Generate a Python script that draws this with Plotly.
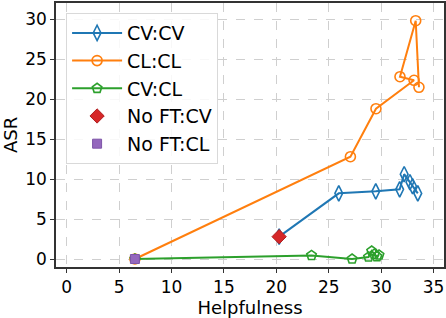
import plotly.graph_objects as go

# Data
cvcv_help = [20.27, 25.96, 29.49, 31.77, 32.2, 32.75, 33.0, 33.5]
cvcv_asr = [2.79, 8.21, 8.46, 8.71, 10.6, 9.6, 9.1, 8.2]

clcl_help = [6.51, 27.07, 29.51, 33.14, 31.80, 33.30, 33.61]
clcl_asr = [0.0, 12.79, 18.79, 22.34, 22.79, 29.79, 21.46]

cvcl_help = [6.51, 23.36, 27.23, 28.8, 29.1, 29.35, 29.6, 29.8]
cvcl_asr = [0.0, 0.45, 0.0, 0.25, 1.0, 0.6, 0.3, 0.5]

noft_cv_help = [20.27]
noft_cv_asr = [2.79]
noft_cl_help = [6.51]
noft_cl_asr = [0.0]

x_ticks = [0, 5, 10, 15, 20, 25, 30, 35]
y_ticks = [0, 5, 10, 15, 20, 25, 30]

FONT = "DejaVu Sans"

fig = go.Figure()
fig.add_trace(go.Scatter(x=cvcv_help, y=cvcv_asr, mode="lines+markers", name="CV:CV",
                         legendgroup="a",
                         line=dict(color="#1f77b4", width=2),
                         marker=dict(symbol="diamond-tall-open", size=11, color="#1f77b4",
                                     line=dict(width=1.6, color="#1f77b4"))))
fig.add_trace(go.Scatter(x=clcl_help, y=clcl_asr, mode="lines+markers", name="CL:CL",
                         legendgroup="b",
                         line=dict(color="#ff7f0e", width=2),
                         marker=dict(symbol="circle-open", size=10, color="#ff7f0e",
                                     line=dict(width=1.6, color="#ff7f0e"))))
fig.add_trace(go.Scatter(x=cvcl_help, y=cvcl_asr, mode="lines+markers", name="CV:CL",
                         legendgroup="c",
                         line=dict(color="#2ca02c", width=2),
                         marker=dict(symbol="pentagon-open", size=10, color="#2ca02c",
                                     line=dict(width=1.6, color="#2ca02c"))))
fig.add_trace(go.Scatter(x=noft_cv_help, y=noft_cv_asr, mode="markers", name="No FT:CV",
                         legendgroup="d",
                         marker=dict(symbol="diamond", size=11, color="#d62728",
                                     line=dict(width=1, color="#b01f20"))))
fig.add_trace(go.Scatter(x=noft_cl_help, y=noft_cl_asr, mode="markers", name="No FT:CL",
                         legendgroup="e",
                         marker=dict(symbol="square", size=9, color="#9467bd",
                                     line=dict(width=1, color="#7d55a8"))))

axis_common = dict(
    showline=True, mirror=True, linecolor="#333333", linewidth=1.5,
    ticks="outside", ticklen=4, tickwidth=1.2, tickcolor="#333333",
    showgrid=True, gridcolor="#cfcfcf", griddash="dash", gridwidth=1,
    zeroline=False, automargin=False,
    tickfont=dict(family=FONT, size=17, color="black"),
)

fig.update_xaxes(range=[-1.02, 36.0], tickvals=x_ticks,
                 title=dict(text="Helpfulness", font=dict(family=FONT, size=18, color="black"), standoff=4),
                 **axis_common)
fig.update_yaxes(range=[-1.0, 32.0], tickvals=y_ticks,
                 title=dict(text="ASR", font=dict(family=FONT, size=18, color="black"), standoff=6),
                 **axis_common)

fig.update_layout(
    width=446, height=318,
    margin=dict(l=56, r=2, t=3, b=51),
    paper_bgcolor="white", plot_bgcolor="white",
    font=dict(family=FONT, color="black"),
    legend=dict(x=0.026, y=0.962, xanchor="left", yanchor="top",
                bgcolor="rgba(255,255,255,0.85)", bordercolor="#d9d9d9", borderwidth=1,
                font=dict(family=FONT, size=19, color="black"),
                itemwidth=50, tracegroupgap=0),
    showlegend=True,
)

fig.write_html(
    "out.html",
    config={"displayModeBar": False},
    post_script="document.body.style.margin='0';document.body.style.overflow='hidden';",
)
